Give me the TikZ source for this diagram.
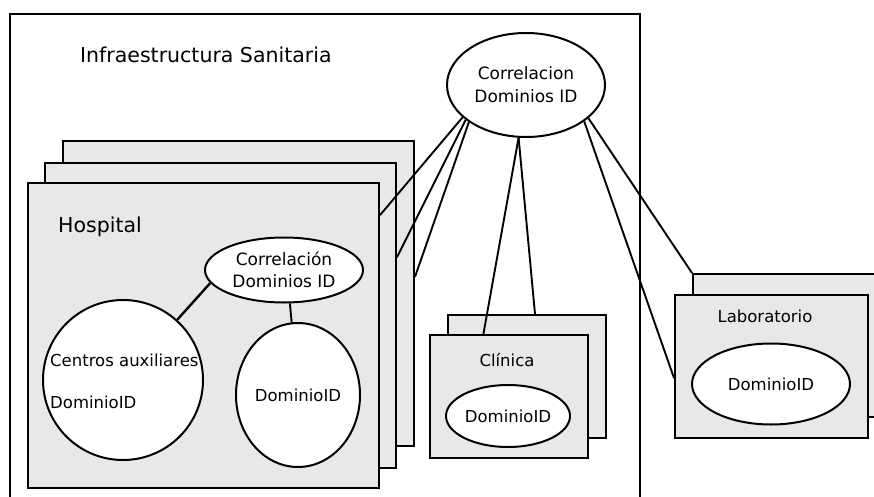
\documentclass[tikz,border=0pt]{standalone}
\usepackage{fontspec}
\setmainfont{DejaVu Sans}
\usetikzlibrary{shapes.geometric,calc}
\definecolor{sheetgray}{HTML}{E8E8E8}

\begin{document}
\begin{tikzpicture}[
  x=1pt,
  y=-1pt,
  frame/.style={draw=black, line width=2pt},
  sheet/.style={draw=black, line width=2pt, fill=sheetgray, inner sep=0pt, anchor=north west},
  dom/.style={ellipse, draw=black, line width=2pt, fill=white, inner sep=0pt, align=center, font=\fontsize{16.5}{22}\selectfont},
  link/.style={draw=black, line width=1.9pt},
  bigtxt/.style={font=\fontsize{20.5}{24}\selectfont, inner sep=0pt},
  boxtxt/.style={font=\fontsize{16.5}{20}\selectfont, inner sep=0pt}
]
\path[use as bounding box, clip] (0,0) rectangle (874,497);

% Outer frame, open at the bottom.
\draw[frame] (10,497) -- (10,14) -- (640,14) -- (640,497);
\node[bigtxt, anchor=west] (infra) at (80,55) {Infraestructura Sanitaria};

% Hospital stack, back to front.
\foreach \n/\x/\y in {C/62/140,B/44/162,A/27/182} {
  \node[sheet, minimum width=351pt, minimum height=305pt] (hosp\n) at (\x,\y) {};
}
\node[bigtxt, anchor=west] (hospT) at (58,227) {Hospital};
\node[dom, minimum width=158pt, minimum height=65pt, font=\fontsize{17}{22}\selectfont] (corrH) at (284,270) {Correlación\\Dominios ID};
\node[dom, minimum width=160pt, minimum height=160pt] (centros) at (123,380) {};
\node[boxtxt, anchor=west] (centrosT) at (50,360) {Centros auxiliares};
\node[boxtxt, anchor=west] (centrosD) at (50,402) {DominioID};
\node[dom, minimum width=124pt, minimum height=144pt] (domH) at (298,395) {DominioID};

% Clinica stack.
\foreach \n/\x/\y in {B/447/314,A/429/334} {
  \node[sheet, minimum width=158pt, minimum height=123pt] (clin\n) at (\x,\y) {};
}
\node[boxtxt] (clinT) at (507,360) {Clínica};
\node[dom, minimum width=124pt, minimum height=62pt] (domC) at (508,416) {DominioID};

% Laboratorio stack.
\foreach \n/\x/\y in {B/692/273,A/674/294} {
  \node[sheet, minimum width=193pt, minimum height=143pt] (lab\n) at (\x,\y) {};
}
\node[boxtxt] (labT) at (765,316) {Laboratorio};
\node[dom, minimum width=158pt, minimum height=81pt] (domL) at (771,384) {DominioID};

% Global correlation.
\node[dom, minimum width=158pt, minimum height=104pt, font=\fontsize{17}{23}\selectfont] (corrTop) at (526,85) {Correlacion\\Dominios ID};

% Links.
\draw[link] (corrTop.207) -- ($(hospA.north east)!0.108!(hospA.south east)$);
\draw[link] (corrTop.210) -- ($(hospB.north east)!0.31!(hospB.south east)$);
\draw[link] (corrTop.213) -- ($(hospC.north east)!0.446!(hospC.south east)$);
\draw[link] (corrTop.262) -- ($(clinA.north west)!0.34!(clinA.north east)$);
\draw[link] (corrTop.262) -- ($(clinB.north west)!0.55!(clinB.north east)$);
\draw[link] (corrTop.332) -- (labB.north west);
\draw[link] (corrTop.328) -- ($(labA.north west)!0.58!(labA.south west)$);
\draw[link, line width=2.4pt] (corrH.190) -- (centros.48);
\draw[link] (corrH.280) -- (domH.95);
\end{tikzpicture}
\end{document}
